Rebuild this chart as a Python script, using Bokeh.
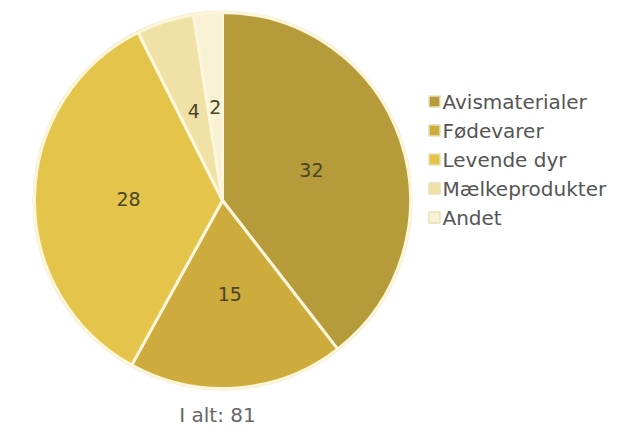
import math
from bokeh.plotting import figure
from bokeh.models import Range1d, ColumnDataSource
from bokeh.core.properties import value
from bokeh.embed import file_html
from bokeh.resources import INLINE

categories = ["Avismaterialer", "Fødevarer", "Levende dyr", "Mælkeprodukter", "Andet"]
values = [32, 15, 28, 4, 2]
colors = ["#b59b3a", "#cdab3d", "#e4c44b", "#f0e2a6", "#f8f1d6"]
total_label = "I alt: " + str(sum(values))

W, H = 623, 428
cx, cy, R = 222, H - 200, 188

p = figure(width=W, height=H, output_backend="svg", toolbar_location=None,
           x_range=Range1d(0, W), y_range=Range1d(0, H), min_border=0)
p.axis.visible = False
p.grid.visible = False
p.outline_line_color = None
p.background_fill_color = "white"

total = sum(values)
starts, ends, lx, ly = [], [], [], []
cum = 0.0
for v in values:
    a0 = math.pi / 2 - 2 * math.pi * (cum + v) / total
    a1 = math.pi / 2 - 2 * math.pi * cum / total
    starts.append(a0)
    ends.append(a1)
    mid = (a0 + a1) / 2
    lx.append(cx + 0.5 * R * math.cos(mid))
    ly.append(cy + 0.5 * R * math.sin(mid))
    cum += v

src = ColumnDataSource(dict(start=starts, end=ends, color=colors,
                            lx=lx, ly=ly, txt=[str(v) for v in values]))

# faint outer ring
p.circle(x=[cx], y=[cy], radius=R + 1, fill_color=None, line_color="#efe6c4", line_width=2)
p.wedge(x=cx, y=cy, radius=R, start_angle="start", end_angle="end",
        fill_color="color", line_color="#fdf6da", line_width=3, source=src)

p.text(x="lx", y="ly", text="txt", source=src, text_align="center", text_baseline="middle",
       text_font=value("DejaVu Sans"), text_font_size="19px", text_color="#4a4528")

# legend
leg_y0 = H - 101
leg_step = 29
ly_leg = [leg_y0 - i * leg_step for i in range(len(categories))]
lsrc = ColumnDataSource(dict(y=ly_leg, color=colors, name=categories))
p.rect(x=434, y="y", width=11, height=11, fill_color="color", line_color="#e8e0b8",
       line_width=1.5, source=lsrc)
p.text(x=442, y="y", text="name", source=lsrc, text_align="left", text_baseline="middle",
       text_font=value("DejaVu Sans"), text_font_size="20px", text_color="#555555")

p.text(x=[cx - 5], y=[H - 414], text=[total_label], text_align="center", text_baseline="middle",
       text_font=value("DejaVu Sans"), text_font_size="20px", text_color="#666666")

open("out.html", "w").write(file_html(p, INLINE))
